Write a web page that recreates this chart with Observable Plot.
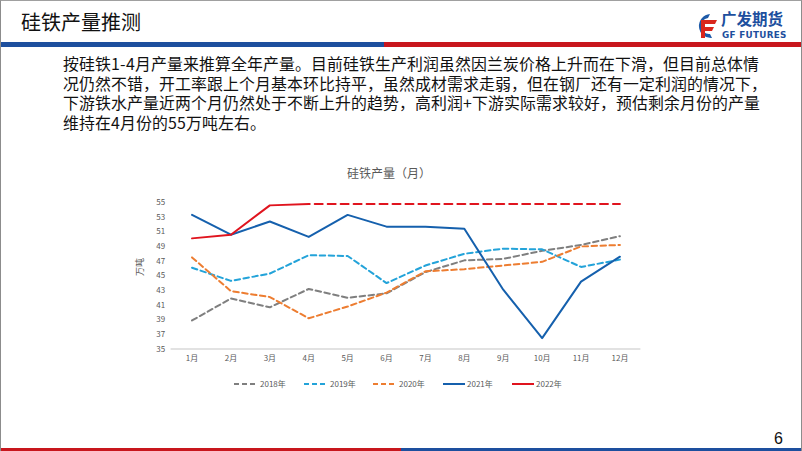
<!DOCTYPE html>
<html><head><meta charset="utf-8">
<script src="https://cdn.jsdelivr.net/npm/d3@7"></script>
<script src="https://cdn.jsdelivr.net/npm/@observablehq/plot@0.6"></script>
<style>
@font-face{font-family:"BodyCJK";src:local("Noto Sans CJK SC Regular"),local("NotoSansCJKsc-Regular"),local("Noto Sans CJK SC");ascent-override:88%;descent-override:22%;line-gap-override:0%;}
html,body{margin:0;padding:0;background:#fff;}
#page{position:relative;width:802px;height:451px;overflow:hidden;background:#fff;font-family:"Noto Sans CJK SC","Noto Sans",sans-serif;box-sizing:border-box;border-left:1.5px solid #8c8c8c;border-right:1.5px solid #8c8c8c;border-top:1px solid #a0a0a0;}
.abs{position:absolute;white-space:nowrap;}
#title{left:20px;top:6px;font-size:20px;color:#111;line-height:30px;}
#bodytext{left:62px;top:54px;font-size:15.9px;color:#111;line-height:19.5px;font-family:"BodyCJK","Noto Sans CJK SC",sans-serif;}
#ctitle{left:388px;top:163px;transform:translateX(-50%);font-size:12px;color:#595959;}
#ylab{left:138px;top:266px;transform:translate(-50%,-50%) rotate(-90deg);font-size:9px;color:#595959;}
.leg{top:377px;font-size:8px;color:#595959;line-height:12px;display:flex;align-items:center;}
#plotwrap{position:absolute;left:0;top:180px;}
</style></head>
<body>
<div id="page">
  <div id="title" class="abs">硅铁产量推测</div>
  <svg class="abs" style="left:691px;top:11px" width="28" height="28" viewBox="0 0 28 28">
    <path d="M18 2 A12 12 0 1 0 20 26 L18 22 A8 8 0 1 1 16 6 Z" fill="#1d5aa8"/>
    <path d="M9 8 H25 L23 12 H13 V15 H22 L20 19 H13 V26 H9 Z" fill="#d9261c"/>
  </svg>
  <div class="abs" style="left:720px;top:6px;font-size:15.5px;font-weight:bold;color:#1d4f9e;line-height:22px;">广发期货</div>
  <div class="abs" style="left:721px;top:29px;font-size:8.8px;font-weight:bold;color:#1d4f9e;line-height:10px;letter-spacing:0.3px;font-family:'DejaVu Sans',sans-serif;">GF FUTURES</div>
  <div class="abs" style="left:0;top:41px;width:383px;height:5px;background:#1d4f9e;"></div>
  <div class="abs" style="left:383px;top:41px;width:419px;height:5px;background:#c8161d;"></div>

  <div id="bodytext" class="abs">按硅铁1-4月产量来推算全年产量。目前硅铁生产利润虽然因兰炭价格上升而在下滑，但目前总体情<br>况仍然不错，开工率跟上个月基本环比持平，虽然成材需求走弱，但在钢厂还有一定利润的情况下，<br>下游铁水产量近两个月仍然处于不断上升的趋势，高利润+下游实际需求较好，预估剩余月份的产量<br>维持在4月份的55万吨左右。</div>

  <div id="ctitle" class="abs">硅铁产量（月）</div>
  <div id="ylab" class="abs">万吨</div>
  <div id="plotwrap"></div>
  <div id="legend"></div>

  <div class="abs" style="left:773px;top:428px;font-size:16px;color:#111;line-height:20px;font-family:'Liberation Sans',sans-serif;">6</div>
  <div class="abs" style="left:0;top:447px;width:400px;height:4px;background:#c8161d;"></div>
  <div class="abs" style="left:400px;top:447px;width:402px;height:4px;background:#1d4f9e;"></div>
</div>
<script>
const months = ["1月","2月","3月","4月","5月","6月","7月","8月","9月","10月","11月","12月"];
const y2018 = [38.9, 41.9, 40.7, 43.2, 42.0, 42.6, 45.5, 47.1, 47.3, 48.4, 49.2, 50.4];
const y2019 = [46.1, 44.3, 45.3, 47.8, 47.7, 44.0, 46.4, 48.0, 48.7, 48.6, 46.2, 47.2];
const y2020 = [47.5, 42.9, 42.1, 39.2, 40.8, 42.7, 45.6, 45.9, 46.4, 46.9, 49.0, 49.2];
const y2021 = [53.3, 50.6, 52.4, 50.3, 53.3, 51.7, 51.7, 51.4, 43.1, 36.5, 44.2, 47.6];
const y2022 = [50.1, 50.6, 54.6, 54.8];
const forecastMonths = ["4月","5月","6月","7月","8月","9月","10月","11月","12月"];
const y2022f = [54.8, 54.8, 54.8, 54.8, 54.8, 54.8, 54.8, 54.8, 54.8];
const yTicks = [35, 37, 39, 41, 43, 45, 47, 49, 51, 53, 55];

const series = [
  {name: "2018年", values: y2018, months: months, color: "#7f7f7f", dash: "5.5,3.5"},
  {name: "2019年", values: y2019, months: months, color: "#23a3d9", dash: "5.5,3.5"},
  {name: "2020年", values: y2020, months: months, color: "#ed7d31", dash: "5.5,3.5"},
  {name: "2021年", values: y2021, months: months, color: "#1560ad", dash: null},
  {name: "2022年", values: y2022, months: months.slice(0, 4), color: "#e0141e", dash: null}
];
const rows = s => s.values.map((v, i) => ({m: s.months[i], v}));
const fRows = y2022f.map((v, i) => ({m: forecastMonths[i], v}));

const marks = [
  Plot.ruleY([35], {stroke: "#d9d9d9", strokeWidth: 1.5}),
  ...series.map(s => Plot.line(rows(s), {x: "m", y: "v", stroke: s.color, strokeWidth: 2, strokeDasharray: s.dash || undefined})),
  Plot.line(fRows, {x: "m", y: "v", stroke: "#e0141e", strokeWidth: 2, strokeDasharray: "8,5", strokeDashoffset: -6}),
  Plot.axisY({ticks: yTicks, tickSize: 0, tickPadding: 6, label: null, fontSize: 8, color: "#595959"}),
  Plot.axisX({tickSize: 0, tickPadding: 6, label: null, fontSize: 8, color: "#595959"})
];

const chart = Plot.plot({
  width: 802, height: 190,
  marginLeft: 170, marginRight: 161, marginTop: 21, marginBottom: 22,
  x: {type: "point", domain: months, padding: 0.5},
  y: {domain: [35, 55]},
  style: {fontFamily: "'Noto Sans CJK SC','Noto Sans',sans-serif", background: "transparent", overflow: "visible"},
  marks
});
document.getElementById("plotwrap").appendChild(chart);

const legX = [233, 303, 372, 442, 511];
const legend = document.getElementById("legend");
series.forEach((s, i) => {
  const d = document.createElement("div");
  d.className = "abs leg";
  d.style.left = legX[i] + "px";
  const solid = !s.dash;
  d.innerHTML = `<svg width="22" height="6" style="margin-right:${solid ? 2 : 4}px"><line x1="0" y1="3" x2="22" y2="3" stroke="${s.color}" stroke-width="2" ${solid ? "" : 'stroke-dasharray="5,3"'}/></svg><span>${s.name}</span>`;
  legend.appendChild(d);
});
</script>
</body></html>
